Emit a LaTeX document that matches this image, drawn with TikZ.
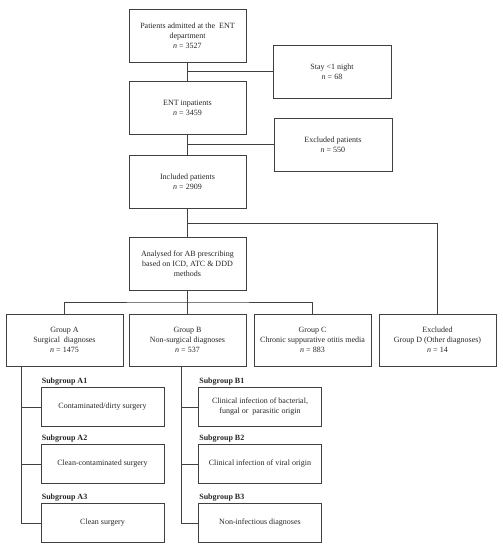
\documentclass[tikz,border=0pt]{standalone}
\usepackage{fontspec}
\setmainfont{Liberation Serif}
\begin{document}
\begin{tikzpicture}[x=1pt,y=-1pt,
  box/.style={draw=black!75,line width=0.7pt,rectangle,align=center,inner sep=1pt,
    font=\fontsize{8}{10}\selectfont,text=black!85},
  bigbox/.style={box,minimum width=117pt,minimum height=53pt},
  grpbox/.style={box,minimum width=117pt,minimum height=52pt},
  subbox/.style={box,minimum width=123pt,minimum height=39pt},
  sublabel/.style={anchor=south west,inner sep=0pt,font=\fontsize{8}{10}\selectfont\bfseries,text=black!85},
  conn/.style={draw=black!75,line width=0.7pt}]
\useasboundingbox (0,0) rectangle (503,550);
\node[bigbox] (adm) at (187.5,35.5) {Patients admitted at the\ \ ENT\\department\\\textit{n} = 3527};
\node[bigbox,minimum width=118pt] (stay) at (332,71.5) {Stay <1 night\\\textit{n} = 68};
\node[bigbox] (ent) at (187.5,107.5) {ENT inpatients\\\textit{n} = 3459};
\node[bigbox,minimum width=118pt] (excl) at (333,144.5) {Excluded patients\\\textit{n} = 550};
\node[bigbox] (incl) at (187.5,181.5) {Included patients\\\textit{n} = 2909};
\node[bigbox] (an) at (187.5,263.5) {Analysed for AB prescribing\\based on ICD, ATC \& DDD\\methods};
\node[grpbox] (ga) at (64.5,340) {Group A\\Surgical\ \ diagnoses\\\textit{n} = 1475};
\node[grpbox] (gb) at (187.5,340) {Group B\\Non-surgical diagnoses\\\textit{n} = 537};
\node[grpbox] (gc) at (312.5,340) {Group C\\Chronic suppurative otitis media\\\textit{n} = 883};
\node[grpbox] (gd) at (437.5,340) {Excluded\\Group D (Other diagnoses)\\\textit{n} = 14};
\node[subbox] (a1) at (102.5,407) {Contaminated/dirty surgery};
\node[subbox] (a2) at (102.5,464) {Clean-contaminated surgery};
\node[subbox] (a3) at (102.5,523) {Clean surgery};
\node[subbox] (b1) at (260,407) {Clinical infection of bacterial,\\fungal or\ \ parasitic origin};
\node[subbox] (b2) at (260,464) {Clinical infection of viral origin};
\node[subbox] (b3) at (260,523) {Non-infectious diagnoses};
\node[sublabel] (la1) at ([shift={(1,-2)}]a1.north west) {Subgroup A1};
\node[sublabel] (la2) at ([shift={(1,-2)}]a2.north west) {Subgroup A2};
\node[sublabel] (la3) at ([shift={(1,-2)}]a3.north west) {Subgroup A3};
\node[sublabel] (lb1) at ([shift={(1,-2)}]b1.north west) {Subgroup B1};
\node[sublabel] (lb2) at ([shift={(1,-2)}]b2.north west) {Subgroup B2};
\node[sublabel] (lb3) at ([shift={(1,-2)}]b3.north west) {Subgroup B3};
% connectors
\draw[conn] (adm.south) -- (ent.north);
\draw[conn] (adm.south |- stay.west) -- (stay.west);
\draw[conn] (ent.south) -- (incl.north);
\draw[conn] (ent.south |- excl.west) -- (excl.west);
\draw[conn] (incl.south) -- (an.north);
\coordinate (dbus) at (187.5,223.7);
\draw[conn] (dbus) -| (gd.north);
\coordinate (gbus) at (187.5,302);
\draw[conn] (an.south) -- (gb.north);
\draw[conn] (ga.north) |- (gbus) -| (gc.north);
\coordinate (av) at ([xshift=15.5pt]ga.south west);
\draw[conn] (av) |- (a3.west);
\draw[conn] (av |- a1.west) -- (a1.west);
\draw[conn] (av |- a2.west) -- (a2.west);
\coordinate (bv) at ([xshift=53pt]gb.south west);
\draw[conn] (bv) |- (b3.west);
\draw[conn] (bv |- b1.west) -- (b1.west);
\draw[conn] (bv |- b2.west) -- (b2.west);
\end{tikzpicture}
\end{document}
